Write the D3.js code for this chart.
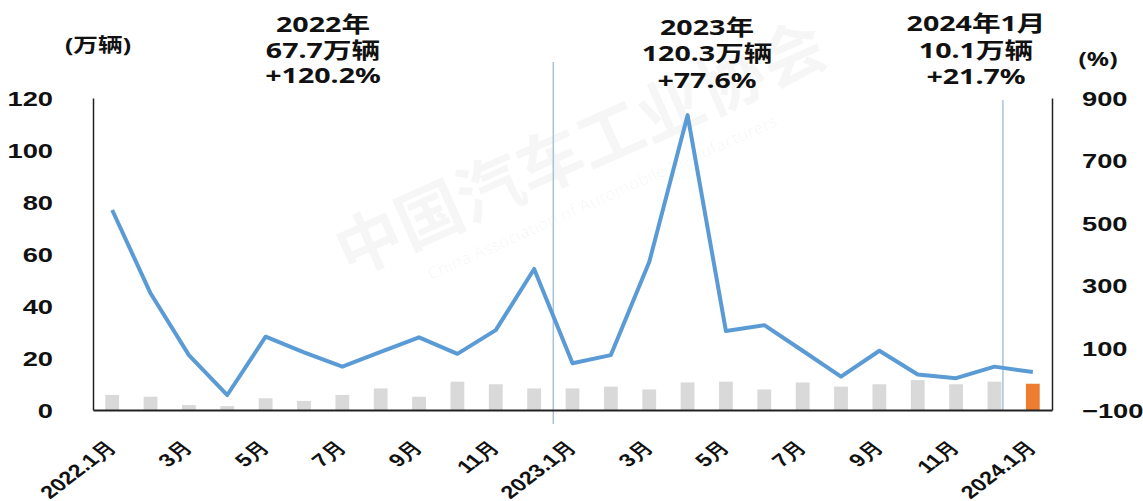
<!DOCTYPE html>
<html>
<head>
<meta charset="utf-8">
<script src="https://d3js.org/d3.v7.min.js"></script>
<style>
  body { margin: 0; background: #fff; }
  svg { display: block; font-family: "Noto Sans", "Noto Sans CJK SC", sans-serif; font-weight: bold; }
</style>
</head>
<body>
<div id="chart"></div>
<script>
// months 2022.1 - 2024.1
var months = ["2022.1月","2月","3月","4月","5月","6月","7月","8月","9月","10月","11月","12月",
              "2023.1月","2月","3月","4月","5月","6月","7月","8月","9月","10月","11月","12月",
              "2024.1月"];
// exports, 万辆 (bars, left axis)
var volume = [5.8, 5.1, 1.9, 1.5, 4.5, 3.5, 5.8, 8.3, 5.1, 10.9, 9.9, 8.3,
              8.3, 9.0, 7.9, 10.6, 10.9, 7.9, 10.6, 9.0, 9.9, 11.5, 9.9, 10.9,
              10.1];
// growth, % (line, right axis)
var growth = [541, 274, 76, -52, 135, 85, 39, 86, 133, 80, 156, 352,
              50, 76, 374, 845, 153, 172, 90, 7, 90, 14, 2, 39,
              21.7];
var leftTicks = [0, 20, 40, 60, 80, 100, 120];
var rightTicks = [-100, 100, 300, 500, 700, 900];
var note2022 = ["2022年", "67.7万辆", "+120.2%"];
var note2023 = ["2023年", "120.3万辆", "+77.6%"];
var note2024 = ["2024年1月", "10.1万辆", "+21.7%"];

var W = 1143, H = 501;
var SX = 1.3; // the source picture is stretched sideways

var svg = d3.select("#chart").append("svg")
    .attr("width", W).attr("height", H);

// month labels repeat, so the band scale works on the index
var idx = d3.range(months.length);
var x = d3.scaleBand().domain(idx).range([93, 1052]);
var yL = d3.scaleLinear().domain([0, 120]).range([410, 98]);
var yR = d3.scaleLinear().domain([-100, 900]).range([410, 98]);
var cx = function(i) { return x(i) + x.bandwidth() / 2; };

// faint watermark
var wm = svg.append("g").attr("fill", "#000").attr("fill-opacity", 0.035)
    .attr("transform", "translate(590,170) rotate(-24)");
wm.append("text").attr("text-anchor", "middle").attr("font-size", 66).text("中国汽车工业协会");
wm.append("text").attr("text-anchor", "middle").attr("y", 36).attr("font-size", 17)
    .attr("font-weight", "normal").text("China Association of Automobile Manufacturers");

// separators between years
var s1 = x(12), s2 = x(24) - x.bandwidth() * 0.28;
svg.append("line")
    .attr("x1", s1).attr("x2", s1).attr("y1", 62).attr("y2", 424)
    .attr("stroke", "#a9c2dc").attr("stroke-width", 1.5);
svg.append("line")
    .attr("x1", s2).attr("x2", s2).attr("y1", 100).attr("y2", 410)
    .attr("stroke", "#a9c2dc").attr("stroke-width", 1.5);

// bars
var bw = x.bandwidth() * 0.36;
svg.append("g")
  .selectAll("rect")
  .data(volume)
  .join("rect")
    .attr("x", function(d, i) { return cx(i) - bw / 2; })
    .attr("width", bw)
    .attr("y", function(d) { return yL(d); })
    .attr("height", function(d) { return yL(0) - yL(d); })
    .attr("fill", function(d, i) { return i == months.length - 1 ? "#ed7d31" : "#d9d9d9"; });

// growth line
svg.append("path")
    .datum(growth)
    .attr("fill", "none")
    .attr("stroke", "#5b9bd5")
    .attr("stroke-width", 4)
    .attr("stroke-linejoin", "round")
    .attr("d", d3.line().x(function(d, i) { return cx(i); }).y(function(d) { return yR(d); }));

// axes
var axL = svg.append("g").attr("transform", "translate(93,0)")
    .call(d3.axisLeft(yL).tickValues(leftTicks).tickSize(0).tickSizeOuter(0));
var axR = svg.append("g").attr("transform", "translate(1052,0)")
    .call(d3.axisRight(yR).tickValues(rightTicks).tickSize(0).tickSizeOuter(0));
var axB = svg.append("g").attr("transform", "translate(0,410)")
    .call(d3.axisBottom(x).tickSize(0).tickSizeOuter(0)
      .tickValues(idx.filter(function(i) { return i % 2 == 0; }))
      .tickFormat(function(i) { return months[i]; }));

axL.select(".domain").attr("stroke", "#222").attr("stroke-width", 1.5);
axR.select(".domain").attr("stroke", "#222").attr("stroke-width", 1.5);
axB.select(".domain").attr("stroke", "#222").attr("stroke-width", 2);

axL.selectAll("text")
    .attr("font-family", null).attr("font-size", 21).attr("fill", "#111")
    .attr("x", -40 / SX).attr("dy", "0.36em")
    .attr("transform", "scale(" + SX + ",1)");
axR.selectAll("text")
    .attr("font-family", null).attr("font-size", 21).attr("fill", "#111")
    .attr("x", 30 / SX).attr("dy", "0.36em")
    .attr("transform", "scale(" + SX + ",1)");
axB.selectAll(".tick text")
    .attr("font-family", null).attr("font-size", 18).attr("fill", "#111")
    .attr("text-anchor", "end")
    .attr("x", 0).attr("y", 0).attr("dy", 0)
    .attr("transform", "translate(5,38) scale(" + SX + ",1) rotate(-45)");

// units
svg.append("text").attr("font-size", 19).attr("fill", "#111").attr("text-anchor", "middle")
    .attr("transform", "translate(98,52) scale(" + SX + ",1)").text("(万辆)");
svg.append("text").attr("font-size", 19).attr("fill", "#111").attr("text-anchor", "middle")
    .attr("transform", "translate(1098,66) scale(" + SX + ",1)").text("(%)");

// year notes
function note(lines, px, ys) {
  lines.forEach(function(t, k) {
    svg.append("text")
      .attr("font-size", 22).attr("fill", "#111").attr("text-anchor", "middle")
      .attr("transform", "translate(" + px + "," + ys[k] + ") scale(" + SX + ",1)")
      .text(t);
  });
}
note(note2022, 323, [32, 58, 83]);
note(note2023, 707, [35, 61, 88]);
note(note2024, 976, [31, 58, 84]);
</script>
</body>
</html>
